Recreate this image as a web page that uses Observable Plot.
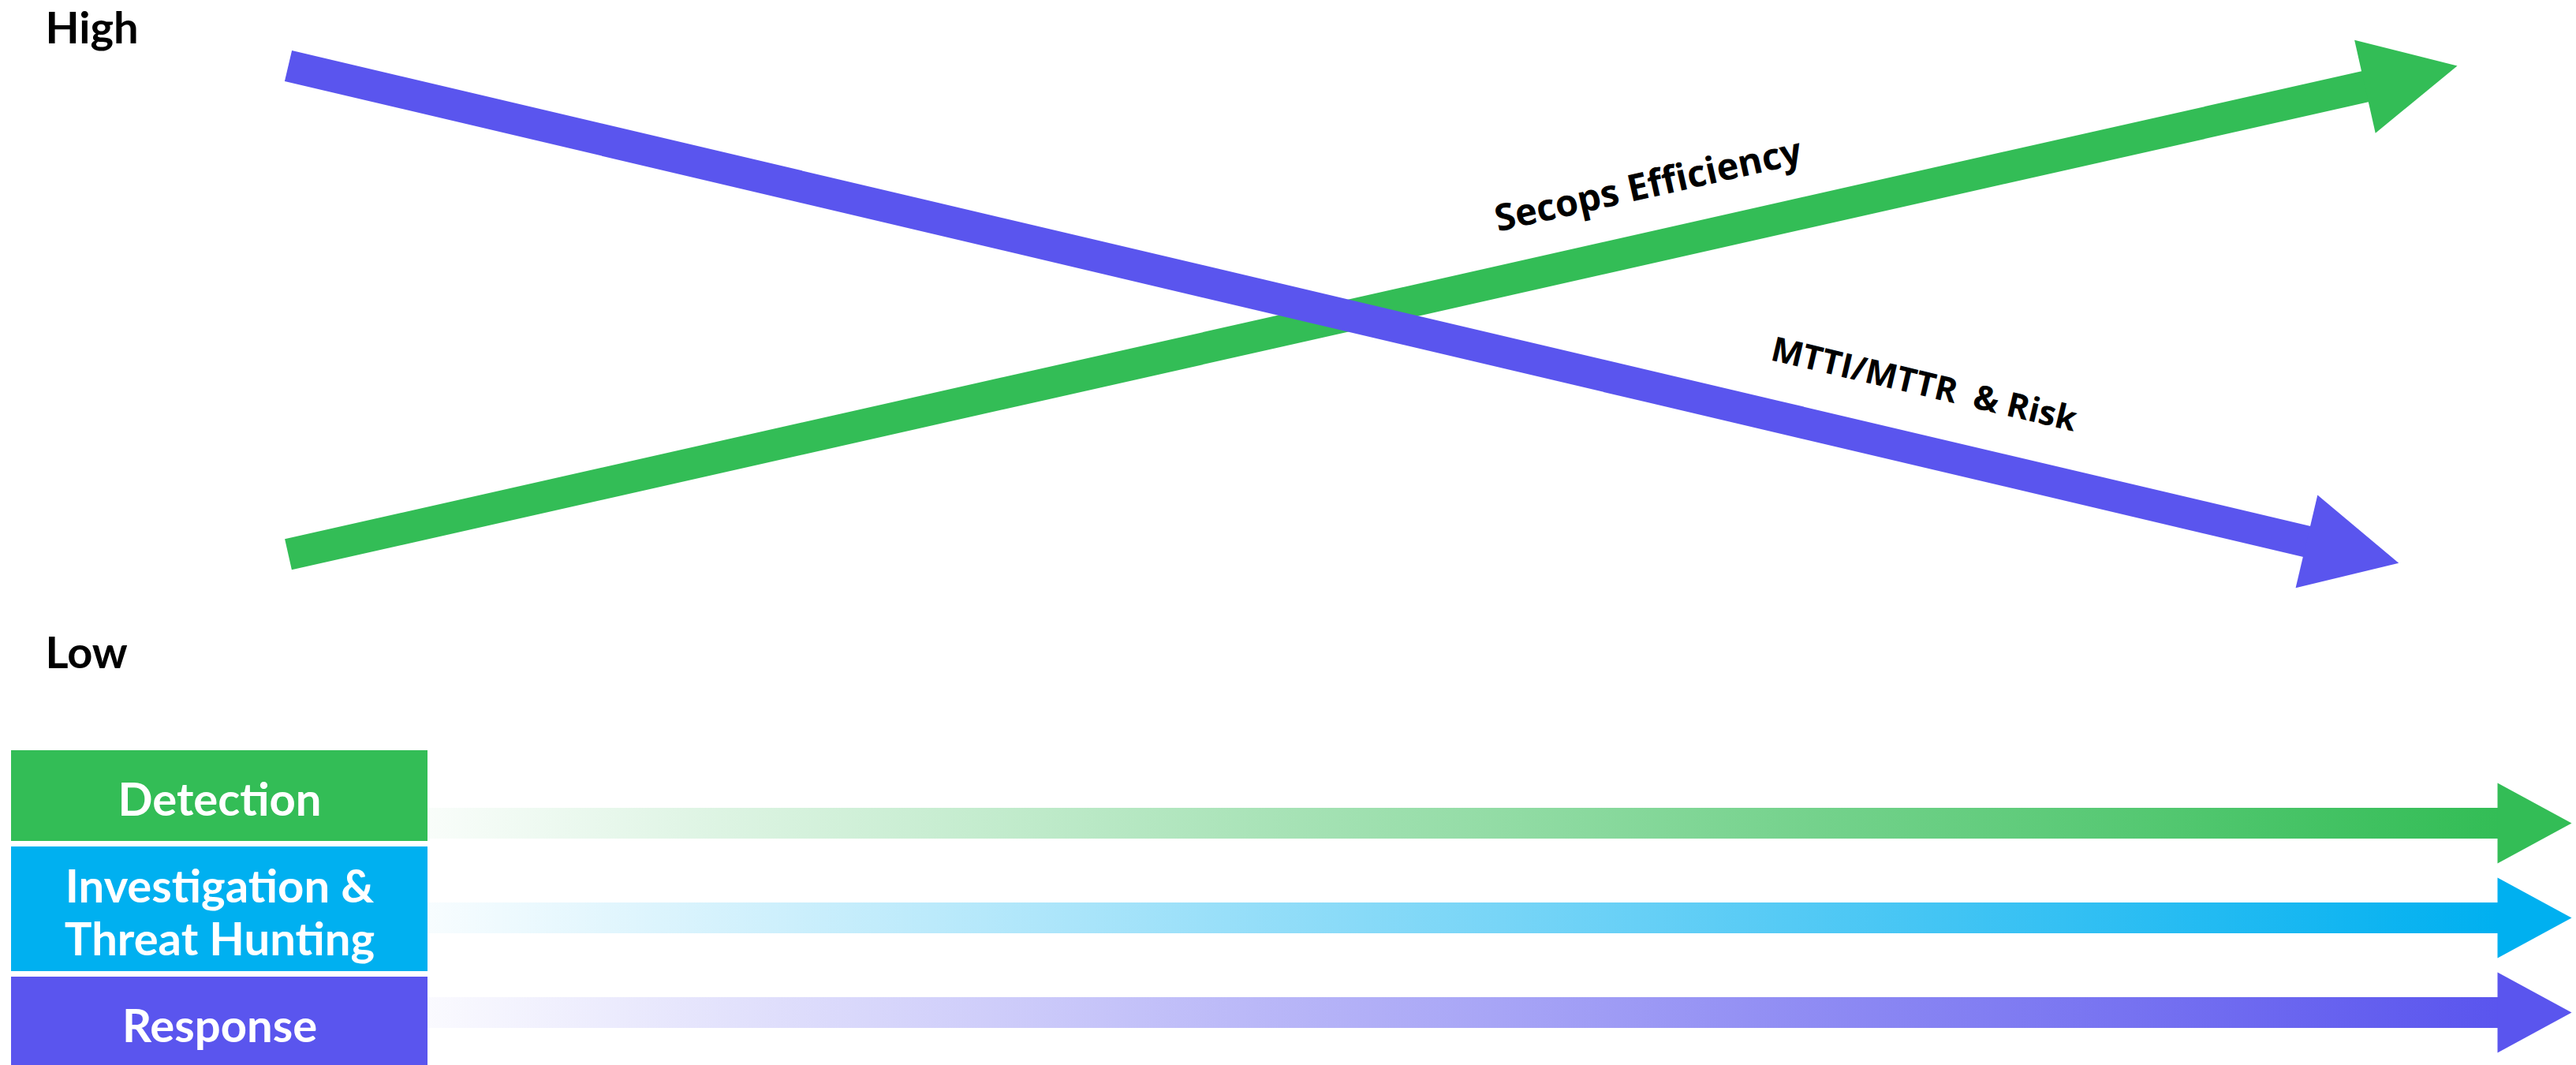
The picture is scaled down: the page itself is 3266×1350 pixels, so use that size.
<!DOCTYPE html>
<html>
<head>
<meta charset="utf-8">
<script src="https://cdn.jsdelivr.net/npm/d3@7"></script>
<script src="https://cdn.jsdelivr.net/npm/@observablehq/plot@0.6"></script>
<style>
  html, body { margin: 0; padding: 0; background: #fff; }
  #chart svg { display: block; }
  #chart svg text { white-space: pre; }
</style>
</head>
<body>
<div id="chart"></div>
<script>
// ---------------- data ----------------
const levelLabels = ["Low", "High"];
const levelValues = [0, 100];

const trendNames = ["Secops Efficiency", "MTTI/MTTR  & Risk"];
const trendStartProgress = [0, 0];
const trendEndProgress = [100, 97.3];
const trendStartLevel = [16.0, 94.2];
const trendEndLevel = [94.2, 14.6];

const stageNames = ["Detection", "Investigation & Threat Hunting", "Response"];
const stageLabelLines = [["Detection"], ["Investigation &", "Threat Hunting"], ["Response"]];
const stageStartProgress = [0, 0, 0];
const stageEndProgress = [100, 100, 100];

// ---------------- style / layout ----------------
const W = 3266, H_TOP = 930, H_BOTTOM = 420;
const trendColors = ["#33BD56", "#5A55EE"];
const stageColors = ["#33BD56", "#00B0F0", "#5A55EE"];
const trendLabelAt = [0.627, 0.775];   // fraction along each arrow
const trendLabelLift = [79, 84];       // px above the arrow
const trendLabelSize = [47, 43];

const xTop = {domain: [0, 100], range: [365, 3115]};
const yTop = {domain: [0, 100], range: [829, 37]};
const sxT = d3.scaleLinear(xTop.domain, xTop.range);
const syT = d3.scaleLinear(yTop.domain, yTop.range);

const DIAG_HEAD_LEN = 120, DIAG_HEAD_HALF = 60.5, DIAG_SHAFT = 40;
const H_HEAD_LEN = 94, H_HEAD_HALF = 51, H_SHAFT = 39;

function headSymbol(len, half) {
  return {draw(ctx) { ctx.moveTo(0, 0); ctx.lineTo(-len, -half); ctx.lineTo(-len, half); ctx.closePath(); }};
}

// ---------------- top chart ----------------
const levels = levelLabels.map((label, i) => ({label, value: levelValues[i]}));

const trends = trendNames.map((name, i) => {
  const x0 = sxT(trendStartProgress[i]), y0 = syT(trendStartLevel[i]);
  const x1 = sxT(trendEndProgress[i]), y1 = syT(trendEndLevel[i]);
  const a = Math.atan2(y1 - y0, x1 - x0), c = Math.cos(a), s = Math.sin(a);
  const bx = x1 - (DIAG_HEAD_LEN - 8) * c, by = y1 - (DIAG_HEAD_LEN - 8) * s;
  const f = trendLabelAt[i];
  const lx = x0 + (x1 - x0) * f, ly = y0 + (y1 - y0) * f - trendLabelLift[i];
  return {
    name, color: trendColors[i], angle: a * 180 / Math.PI,
    shaft: [{x: trendStartProgress[i], y: trendStartLevel[i]}, {x: sxT.invert(bx), y: syT.invert(by)}],
    tipX: trendEndProgress[i], tipY: trendEndLevel[i],
    labelX: sxT.invert(lx), labelY: syT.invert(ly), labelSize: trendLabelSize[i]
  };
});

const topPlot = Plot.plot({
  width: W, height: H_TOP, margin: 0,
  x: {...xTop, axis: null},
  y: {...yTop, axis: null},
  color: {type: "identity"},
  style: {background: "white"},
  marks: [
    Plot.text(levels, {
      y: "value", text: "label", frameAnchor: "left", dx: 57, textAnchor: "start",
      fontSize: 56, fontWeight: 700, fontFamily: "Lato", fill: "#000"
    }),
    ...trends.map(t => Plot.line(t.shaft, {
      x: "x", y: "y", stroke: t.color, strokeWidth: DIAG_SHAFT, strokeLinecap: "butt"
    })),
    Plot.dot(trends, {
      x: "tipX", y: "tipY", symbol: headSymbol(DIAG_HEAD_LEN, DIAG_HEAD_HALF),
      rotate: "angle", fill: "color"
    }),
    ...trends.map(t => Plot.text([t], {
      x: "labelX", y: "labelY", text: "name", rotate: "angle",
      fontSize: t.labelSize, fontWeight: 700, fontFamily: "Open Sans", fill: "#000"
    }))
  ]
});

// ---------------- bottom chart ----------------
const xBottom = {domain: [0, 100], range: [542, 3260]};
const sxB = d3.scaleLinear(xBottom.domain, xBottom.range);
const BOX_LEFT = 14, BOX_TOP = 21, BOX_GAP = 7, BOX_H1 = 115, BOX_HLINE = 43;
const ARROW_TOP = 113, ARROW_STEP = 120;

let cursor = BOX_TOP;
const stages = stageNames.map((name, i) => {
  const lines = stageLabelLines[i];
  const h = BOX_H1 + BOX_HLINE * (lines.length - 1);
  const r = {
    name, color: stageColors[i], label: lines.join("\n"),
    y1: cursor, y2: cursor + h, yc: cursor + h / 2,
    x1: sxB.invert(BOX_LEFT), x2: stageStartProgress[i],
    xc: (sxB.invert(BOX_LEFT) + stageStartProgress[i]) / 2,
    ay: ARROW_TOP + i * ARROW_STEP,
    start: stageStartProgress[i], end: stageEndProgress[i],
    shaftEnd: sxB.invert(sxB(stageEndProgress[i]) - H_HEAD_LEN + 8)
  };
  cursor += h + BOX_GAP;
  return r;
});

const bottomPlot = Plot.plot({
  width: W, height: H_BOTTOM, margin: 0,
  x: {...xBottom, axis: null},
  y: {type: "identity", axis: null},
  color: {type: "identity"},
  style: {background: "white"},
  marks: [
    Plot.rect(stages, {x1: "x1", x2: "x2", y1: "y1", y2: "y2", fill: "color"}),
    Plot.text(stages, {
      x: "xc", y: "yc", text: "label", dy: 4, fill: "white",
      fontSize: 58, fontWeight: 700, fontFamily: "Lato", lineHeight: 1.155
    }),
    ...stages.map((s, i) => Plot.ruleY([s], {
      y: "ay", x1: "start", x2: "shaftEnd", stroke: `url(#stageGrad${i})`, strokeWidth: H_SHAFT
    })),
    Plot.dot(stages, {
      x: "end", y: "ay", symbol: headSymbol(H_HEAD_LEN, H_HEAD_HALF), fill: "color"
    })
  ]
});

const defs = d3.select(bottomPlot).insert("defs", ":first-child");
stages.forEach((s, i) => {
  const g = defs.append("linearGradient")
    .attr("id", `stageGrad${i}`)
    .attr("gradientUnits", "userSpaceOnUse")
    .attr("x1", sxB(s.start)).attr("x2", sxB(s.end) - H_HEAD_LEN)
    .attr("y1", 0).attr("y2", 0);
  g.append("stop").attr("offset", 0).attr("stop-color", s.color).attr("stop-opacity", 0.03);
  g.append("stop").attr("offset", 1).attr("stop-color", s.color).attr("stop-opacity", 1);
});

const chart = document.getElementById("chart");
chart.appendChild(topPlot);
chart.appendChild(bottomPlot);
</script>
</body>
</html>
